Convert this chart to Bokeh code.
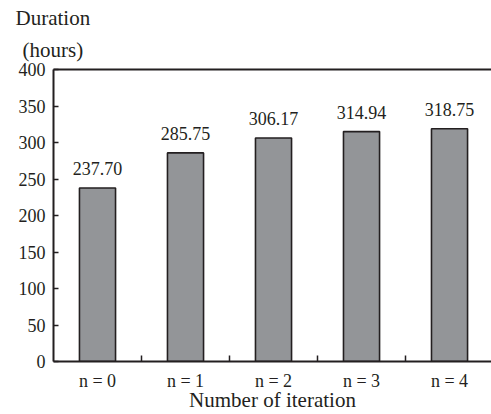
from bokeh.plotting import figure
from bokeh.models import (Range1d, LinearAxis, FixedTicker, ColumnDataSource,
                          LabelSet, Title)
from bokeh.embed import file_html
from bokeh.resources import INLINE

# ---- data ----
categories = ["n = 0", "n = 1", "n = 2", "n = 3", "n = 4"]
durations = [237.70, 285.75, 306.17, 314.94, 318.75]
y_ticks = [0, 50, 100, 150, 200, 250, 300, 350, 400]
y_title = ["Duration", "(hours)"]
x_title = "Number of iteration"

FONT = "Liberation Serif"
INK = "#231f20"
BAR = "#939598"

idx = list(range(len(categories)))
src = ColumnDataSource(dict(
    x=idx, top=durations,
    label=[f"{v:.2f}" for v in durations],
))

p = figure(width=491, height=414, output_backend="svg", toolbar_location=None,
           x_range=Range1d(-0.5, 4.477), y_range=Range1d(0, 400),
           min_border_left=53, min_border_right=0, min_border_top=69,
           min_border_bottom=53, x_axis_type=None, y_axis_type=None)
p.outline_line_color = None
p.xgrid.visible = False
p.ygrid.visible = False

p.vbar(x="x", top="top", width=0.41, source=src, fill_color=BAR,
       line_color=INK, line_width=1.6)

# y axis
yax = LinearAxis(ticker=FixedTicker(ticks=y_ticks))
yax.axis_line_color = INK
yax.axis_line_width = 2
yax.major_tick_line_color = INK
yax.major_tick_line_width = 1.5
yax.major_tick_in = 5
yax.major_tick_out = 0
yax.minor_tick_line_color = None
yax.major_label_text_font = FONT
yax.major_label_text_font_size = "18px"
yax.major_label_text_color = INK
yax.major_label_standoff = 8
p.add_layout(yax, "left")

# x axis: labels at category centres, ticks between categories
xax = LinearAxis(ticker=FixedTicker(ticks=idx,
                                    minor_ticks=[i + 0.5 for i in idx[:-1]]))
xax.major_label_overrides = {i: c for i, c in zip(idx, categories)}
xax.axis_line_color = INK
xax.axis_line_width = 2
xax.major_tick_line_color = None
xax.minor_tick_line_color = INK
xax.minor_tick_line_width = 1.5
xax.minor_tick_in = 6
xax.minor_tick_out = 0
xax.major_label_text_font = FONT
xax.major_label_text_font_size = "18px"
xax.major_label_text_color = INK
xax.major_label_standoff = 3
xax.axis_label = x_title
xax.axis_label_text_font = FONT
xax.axis_label_text_font_size = "21px"
xax.axis_label_text_font_style = "normal"
xax.axis_label_text_color = INK
xax.axis_label_standoff = -6
p.add_layout(xax, "below")

# top frame line
tax = LinearAxis(ticker=FixedTicker(ticks=[]))
tax.axis_line_color = INK
tax.axis_line_width = 2
tax.major_tick_line_color = None
tax.minor_tick_line_color = None
tax.major_label_text_font_size = "0px"
tax.major_label_standoff = 0
p.add_layout(tax, "above")

# value labels
p.add_layout(LabelSet(x="x", y="top", text="label", source=src,
                      text_align="center", text_baseline="alphabetic",
                      y_offset=13, text_font=FONT,
                      text_font_size="18px", text_color=INK))

# y title (two lines, stacked above the frame)
p.add_layout(Title(text=y_title[1], align="left", offset=-31, standoff=16,
                   text_font=FONT, text_font_size="21px",
                   text_font_style="normal", text_color=INK), "above")
p.add_layout(Title(text=y_title[0], align="left", offset=-38, standoff=-5,
                   text_font=FONT, text_font_size="21px",
                   text_font_style="normal", text_color=INK), "above")

open("out.html", "w").write(file_html(p, INLINE))
